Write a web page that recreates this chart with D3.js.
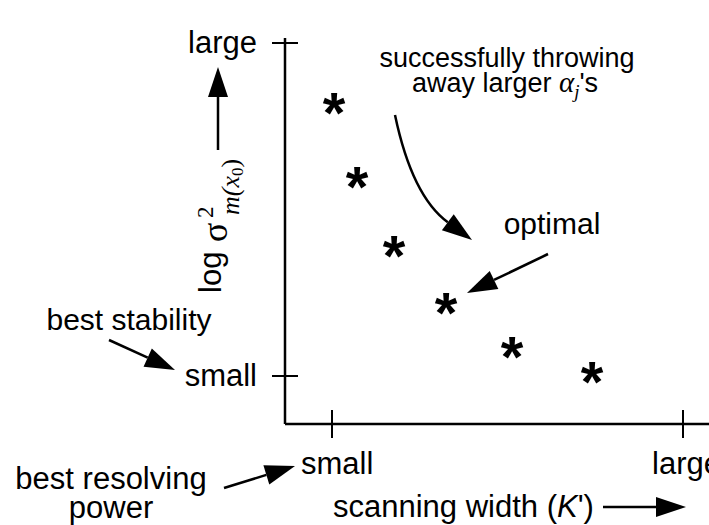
<!DOCTYPE html>
<html>
<head>
<meta charset="utf-8">
<script src="https://cdn.jsdelivr.net/npm/d3@7"></script>
<style>
  body { margin: 0; background: #fff; }
  text { font-family: "Liberation Sans", Arial, sans-serif; fill: #000; }
</style>
</head>
<body>
<div id="myPlot"></div>
<script>
// Values (relative units, 0 = "small", 1 = "large")
const xTickValues = [0, 1];
const xTickLabels = ["small", "large"];
const yTickValues = [0, 1];
const yTickLabels = ["small", "large"];
const scanWidth   = [0.006, 0.071, 0.177, 0.325, 0.513, 0.741];
const logVariance = [0.829, 0.607, 0.400, 0.228, 0.096, 0.021];

drawChart();

function drawChart() {
    const width = 709;
    const height = 525;
    const originX = 285;
    const originY = 424;

    const svg = d3.select("#myPlot")
        .append("svg")
        .attr("width", width)
        .attr("height", height);

    // Scales
    const x = d3.scaleLinear().domain([0, 1]).range([332, 683]);
    const y = d3.scaleLinear().domain([0, 1]).range([376, 43]);

    // Axis lines
    svg.append("line")
        .attr("x1", originX).attr("y1", 38)
        .attr("x2", originX).attr("y2", originY)
        .attr("stroke", "#000").attr("stroke-width", 2.5);
    svg.append("line")
        .attr("x1", originX).attr("y1", originY)
        .attr("x2", width).attr("y2", originY)
        .attr("stroke", "#000").attr("stroke-width", 2.5);

    // Y ticks (cross the axis)
    svg.selectAll(".ytick")
        .data(yTickValues)
        .enter()
        .append("line")
        .attr("x1", originX - 13).attr("x2", originX + 13)
        .attr("y1", d => y(d)).attr("y2", d => y(d))
        .attr("stroke", "#000").attr("stroke-width", 2);
    svg.selectAll(".ylabel")
        .data(yTickValues)
        .enter()
        .append("text")
        .attr("x", 257)
        .attr("y", d => y(d) + 10)
        .attr("text-anchor", "end")
        .style("font-size", "31px")
        .text((d, i) => yTickLabels[i]);

    // X ticks
    svg.selectAll(".xtick")
        .data(xTickValues)
        .enter()
        .append("line")
        .attr("x1", d => x(d)).attr("x2", d => x(d))
        .attr("y1", originY - 14).attr("y2", originY + 14)
        .attr("stroke", "#000").attr("stroke-width", 2);
    svg.selectAll(".xlabel")
        .data(xTickValues)
        .enter()
        .append("text")
        .attr("x", d => x(d) - 31)
        .attr("y", 474)
        .style("font-size", "31px")
        .text((d, i) => xTickLabels[i]);

    // Points drawn as asterisks
    svg.selectAll(".pt")
        .data(scanWidth)
        .enter()
        .append("text")
        .attr("x", d => x(d))
        .attr("y", (d, i) => y(logVariance[i]) + 33)
        .attr("text-anchor", "middle")
        .style("font-size", "58px")
        .style("font-weight", "bold")
        .text("*");

    // Y axis title (rotated)
    const yt = svg.append("g")
        .attr("transform", "translate(221,293) rotate(-90)");
    const ytext = yt.append("text").style("font-size", "31px");
    ytext.append("tspan").attr("x", 0).text("log");
    ytext.append("tspan").attr("x", 51).attr("y", 6)
        .style("font-family", "'Liberation Serif', serif")
        .style("font-size", "36px").text("σ");
    ytext.append("tspan").attr("x", 75).attr("y", -8)
        .style("font-family", "'Liberation Serif', serif")
        .style("font-size", "23px").text("2");
    const sub = yt.append("text")
        .attr("x", 78).attr("y", 18)
        .style("font-family", "'Liberation Serif', serif")
        .style("font-style", "italic")
        .style("font-size", "26px");
    sub.append("tspan").text("m(x");
    sub.append("tspan").attr("dy", 4).style("font-size", "17px").style("font-style", "normal").text("0");
    sub.append("tspan").attr("dy", -4).style("font-style", "normal").text(")");

    // Annotations
    svg.append("text")
        .attr("x", 507).attr("y", 67)
        .attr("text-anchor", "middle")
        .style("font-size", "27px")
        .text("successfully throwing");
    const away = svg.append("text")
        .attr("x", 505).attr("y", 92)
        .attr("text-anchor", "middle")
        .style("font-size", "27px");
    away.append("tspan").text("away larger ");
    away.append("tspan")
        .style("font-family", "'Liberation Serif', serif")
        .style("font-style", "italic")
        .style("font-size", "29px").text("α");
    away.append("tspan")
        .attr("dy", 6)
        .style("font-family", "'Liberation Serif', serif")
        .style("font-style", "italic")
        .style("font-size", "19px").text("j");
    away.append("tspan").attr("dy", -6).text("'s");

    svg.append("text")
        .attr("x", 552).attr("y", 234)
        .attr("text-anchor", "middle")
        .style("font-size", "30px")
        .text("optimal");

    svg.append("text")
        .attr("x", 129).attr("y", 330)
        .attr("text-anchor", "middle")
        .style("font-size", "30px")
        .text("best stability");

    svg.append("text")
        .attr("x", 111).attr("y", 489)
        .attr("text-anchor", "middle")
        .style("font-size", "31px")
        .text("best resolving");
    svg.append("text")
        .attr("x", 111).attr("y", 518)
        .attr("text-anchor", "middle")
        .style("font-size", "31px")
        .text("power");

    const scan = svg.append("text")
        .attr("x", 333).attr("y", 517)
        .style("font-size", "31px");
    scan.append("tspan").text("scanning width (");
    scan.append("tspan").style("font-style", "italic").text("K");
    scan.append("tspan").text("')");

    // Arrows
    arrow(svg, [[218, 150], [218, 67]]);
    arrow(svg, [[109, 340], [175, 370]]);
    arrow(svg, [[224, 488], [295, 466]]);
    arrow(svg, [[603, 507], [686, 507]]);
    arrow(svg, [[548, 254], [467, 293]]);
    curvedArrow(svg, [395, 115], [412, 196], [472, 240]);
}

function arrowHead(svg, from, tip, len, half) {
    const a = Math.atan2(tip[1] - from[1], tip[0] - from[0]);
    const bx = tip[0] - len * Math.cos(a);
    const by = tip[1] - len * Math.sin(a);
    const px = -Math.sin(a) * half;
    const py = Math.cos(a) * half;
    svg.append("path")
        .attr("d", `M${tip[0]},${tip[1]}L${bx + px},${by + py}L${bx - px},${by - py}Z`)
        .attr("fill", "#000");
    return [bx, by];
}

function arrow(svg, pts) {
    const base = arrowHead(svg, pts[0], pts[1], 30, 10);
    svg.append("line")
        .attr("x1", pts[0][0]).attr("y1", pts[0][1])
        .attr("x2", base[0]).attr("y2", base[1])
        .attr("stroke", "#000").attr("stroke-width", 2.5);
}

function curvedArrow(svg, p0, c, p1) {
    const base = arrowHead(svg, c, p1, 30, 10);
    const p = d3.path();
    p.moveTo(p0[0], p0[1]);
    p.quadraticCurveTo(c[0], c[1], base[0], base[1]);
    svg.append("path")
        .attr("d", p.toString())
        .attr("fill", "none")
        .attr("stroke", "#000").attr("stroke-width", 2.5);
}
</script>
</body>
</html>
